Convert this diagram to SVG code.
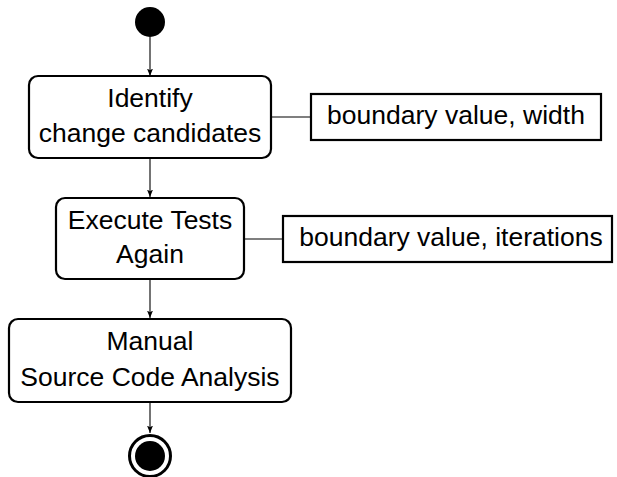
<svg xmlns="http://www.w3.org/2000/svg" width="617" height="477" viewBox="0 0 617 477">
  <defs>
    <marker id="arrow" markerWidth="8" markerHeight="6" refX="7.5" refY="3" orient="auto" markerUnits="userSpaceOnUse">
      <path d="M0,0 L7.5,3 L0,6 L1.8,3 Z" fill="#000"/>
    </marker>
  </defs>
  <style>
    .action { fill: #fff; stroke: #000; stroke-width: 2.2; }
    .note { fill: #fff; stroke: #000; stroke-width: 2.2; }
    .flow { fill: none; stroke: #000; stroke-width: 1.1; }
    .link { fill: none; stroke: #555; stroke-width: 1.5; }
    text { font-family: "Liberation Sans", Arial, sans-serif; font-size: 26.5px; fill: #000; text-anchor: middle; }
  </style>

  <!-- control flow -->
  <g id="connectors">
    <line class="flow" x1="150" y1="37" x2="150" y2="76" marker-end="url(#arrow)"/>
    <line class="flow" x1="150" y1="158" x2="150" y2="197" marker-end="url(#arrow)"/>
    <line class="flow" x1="150" y1="279" x2="150" y2="318" marker-end="url(#arrow)"/>
    <line class="flow" x1="150" y1="402" x2="150" y2="433" marker-end="url(#arrow)"/>
    <line class="link" x1="272" y1="117" x2="311" y2="117"/>
    <line class="link" x1="244" y1="239" x2="283" y2="239"/>
  </g>

  <g id="start">
    <circle cx="150" cy="22" r="15" fill="#000"/>
  </g>

  <g id="identify">
    <rect class="action" x="29" y="76" width="242" height="82" rx="9" ry="9"/>
    <text x="150" y="107">Identify</text>
    <text x="150" y="142">change candidates</text>
  </g>

  <g id="note-width">
    <rect class="note" x="311" y="94" width="290" height="46"/>
    <text x="456" y="124">boundary value, width</text>
  </g>

  <g id="execute">
    <rect class="action" x="56" y="198" width="188" height="81" rx="9" ry="9"/>
    <text x="150" y="228.5">Execute Tests</text>
    <text x="150" y="263">Again</text>
  </g>

  <g id="note-iterations">
    <rect class="note" x="283" y="216" width="329" height="46"/>
    <text x="451" y="245.5">boundary value, iterations</text>
  </g>

  <g id="manual">
    <rect class="action" x="9" y="319" width="282" height="83" rx="9" ry="9"/>
    <text x="150" y="350">Manual</text>
    <text x="150" y="385.5">Source Code Analysis</text>
  </g>

  <g id="end">
    <circle cx="150" cy="456" r="20.5" fill="#fff" stroke="#000" stroke-width="3"/>
    <circle cx="150" cy="456" r="15" fill="#000"/>
  </g>
</svg>
